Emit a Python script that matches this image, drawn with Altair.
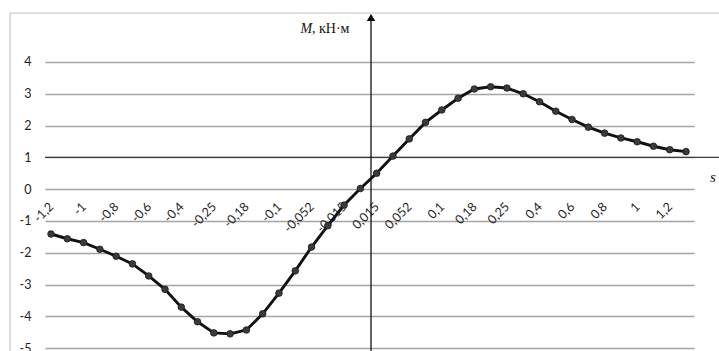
import json
import altair as alt
import pandas as pd

# tick labels shown on every other category
tick_labels = ["-1,2", "-1", "-0,8", "-0,6", "-0,4", "-0,25", "-0,18", "-0,1", "-0,052", "-0,015",
               "0,015", "0,052", "0,1", "0,18", "0,25", "0,4", "0,6", "0,8", "1", "1,2"]
# bending moment values, one per category
M_values = [-1.41, -1.56, -1.68, -1.89, -2.11, -2.35, -2.73, -3.15, -3.71, -4.17,
            -4.52, -4.55, -4.43, -3.92, -3.27, -2.57, -1.82, -1.15, -0.50, 0.02,
            0.50, 1.04, 1.58, 2.10, 2.49, 2.86, 3.15, 3.22, 3.18, 3.00,
            2.75, 2.45, 2.19, 1.95, 1.76, 1.61, 1.49, 1.35, 1.24, 1.18]
y_ticks = [-5, -4, -3, -2, -1, 0, 1, 2, 3, 4]

df = pd.DataFrame({"i": list(range(len(M_values))), "M": M_values})

W, H = 649, 338
label_expr = json.dumps(tick_labels) + "[datum.value / 2]"

x_scale = alt.Scale(domain=[-0.37, 39.49], nice=False, zero=False)
y_scale = alt.Scale(domain=[-5.09, 5.54], nice=False, zero=False)

x_axis = alt.Axis(
    values=list(range(0, 40, 2)), labelExpr=label_expr, labelAngle=-45,
    labelAlign="right", labelBaseline="middle", labelPadding=15,
    grid=False, ticks=False, domain=False, offset=-161.8, title=None,
    labelFont="Lato", labelFontSize=12.5, labelColor="#1e1e1e", labelOverlap=False,
    labelBound=False, labelFlush=False, labelSeparation=0)
y_axis = alt.Axis(
    values=y_ticks, grid=True, gridColor="#a4a4a4", gridWidth=1.4, ticks=False,
    domain=False, title=None, labelFont="Lato", labelFontSize=12.5, labelColor="#1e1e1e",
    labelPadding=14, labelOverlap=False, labelExpr="'' + datum.value",
    labelBound=False, labelFlush=False)

x_enc = alt.X("i:Q", scale=x_scale, axis=x_axis)
y_enc = alt.Y("M:Q", scale=y_scale, axis=y_axis)

base = alt.Chart(df)
line = base.mark_line(color="#111", strokeWidth=2.9).encode(x=x_enc, y=y_enc)
pts = base.mark_point(filled=True, color="#3a3a3a", size=44, opacity=1,
                      stroke="#1a1a1a", strokeWidth=0.8).encode(x=x_enc, y=y_enc)

one = pd.DataFrame({"M": [1]})
dark1 = alt.Chart(one).mark_rule(color="#3a3a3a", strokeWidth=1.4).encode(
    y=y_enc, x=alt.value(0), x2=alt.value(W + 25))
top_border = alt.Chart(one).mark_rule(color="#c4c4c4", strokeWidth=1.2).encode(
    y=alt.value(0), x=alt.value(-35), x2=alt.value(W + 25))
left_border = alt.Chart(one).mark_rule(color="#c4c4c4", strokeWidth=1.2).encode(
    x=alt.value(-35), y=alt.value(0), y2=alt.value(H))
vaxis = alt.Chart(one).mark_rule(color="#111", strokeWidth=1.3).encode(
    x=alt.value(326), y=alt.value(6), y2=alt.value(H))
arrow = alt.Chart(one).mark_point(shape="triangle-up", filled=True, color="#000",
                                  size=70, opacity=1).encode(
    x=alt.value(326), y=alt.value(4.5))
title_m = alt.Chart(one).mark_text(text="M", font="Liberation Serif", fontStyle="italic",
                                   fontSize=14, align="left", baseline="alphabetic",
                                   color="#111").encode(x=alt.value(255.5), y=alt.value(20))
title_u = alt.Chart(one).mark_text(text=", кН·м", font="Liberation Serif",
                                   fontSize=14, align="left", baseline="alphabetic",
                                   color="#111").encode(x=alt.value(267), y=alt.value(20))
s_lab = alt.Chart(one).mark_text(text="s", font="Liberation Serif", fontStyle="italic",
                                 fontSize=15, align="left", baseline="alphabetic",
                                 color="#111").encode(x=alt.value(665), y=alt.value(169))

chart = alt.layer(top_border, left_border, line, dark1, vaxis, arrow, pts,
                  title_m, title_u, s_lab).properties(
    width=W, height=H,
    padding={"left": 45, "top": 13, "right": 25, "bottom": 0},
    autosize=alt.AutoSizeParams(type="none"),
    background="white",
).configure_view(stroke=None).configure_axis(labelOverlap=False)

chart.save("out.html", embed_options={"renderer": "svg", "actions": False})
